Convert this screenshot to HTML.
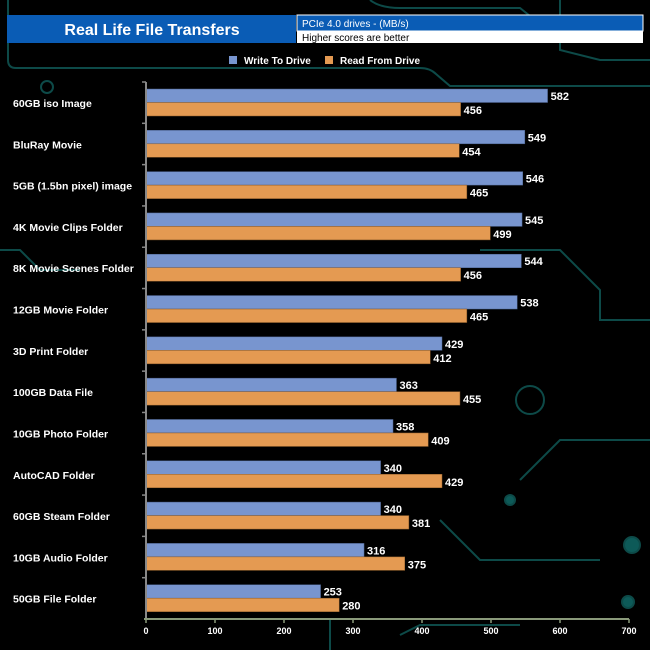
<!DOCTYPE html>
<html><head><meta charset="utf-8"><style>
body{margin:0;background:#000;}
svg{display:block;font-family:"Liberation Sans",Arial,sans-serif;}
</style></head><body>
<svg id="c" width="650" height="650" xmlns="http://www.w3.org/2000/svg">
<g stroke="#0d4a48" stroke-width="2" fill="none">
<path d="M8 0 V60 Q8 68 16 68 H420 Q430 68 436 74 L450 86 H650"/>
<path d="M370 0 Q380 8 400 8 H520 L560 40 V50 L600 60 H650"/>
<path d="M560 0 V20"/>
<path d="M0 250 H20 L40 270 H80"/>
<path d="M480 250 H560 L600 290 V320 L650 320"/>
<path d="M520 480 L560 440 H650"/>
<path d="M440 520 L480 560 H600"/>
<path d="M330 620 V650"/>
<path d="M400 635 L420 625 H520"/>
<circle cx="510" cy="500" r="5" fill="#0d5a58"/>
<circle cx="632" cy="545" r="8" fill="#0d5a58"/>
<circle cx="628" cy="602" r="6" fill="#0d5a58"/>
<circle cx="530" cy="400" r="14"/>
<circle cx="47" cy="87" r="6"/>
</g>
<g>
<rect x="7" y="15" width="289" height="28" fill="#0a5cb5"/>
<text x="152" y="35" fill="#fff" font-size="16" font-weight="bold" text-anchor="middle">Real Life File Transfers</text>
<rect x="297" y="15" width="346" height="16" fill="#0a5cb5" stroke="#fff" stroke-width="1"/>
<rect x="297" y="31" width="346" height="12" fill="#fff"/>
<text x="302" y="27" fill="#fff" font-size="10">PCIe 4.0 drives - (MB/s)</text>
<text x="302" y="41" fill="#000" font-size="10">Higher scores are better</text>
</g>
<g font-size="10" font-weight="bold" fill="#fff">
<rect x="229" y="56" width="8" height="8" fill="#7895cf"/>
<text x="244" y="64">Write To  Drive</text>
<rect x="325" y="56" width="8" height="8" fill="#e49a52"/>
<text x="340" y="64">Read From  Drive</text>
</g>
<g id="plot"></g>
</svg>
<script>
const categories=["60GB iso Image","BluRay Movie","5GB (1.5bn pixel) image","4K Movie Clips Folder","8K Movie Scenes Folder","12GB Movie Folder","3D Print Folder","100GB Data File","10GB Photo Folder","AutoCAD Folder","60GB Steam Folder","10GB Audio Folder","50GB File Folder"];
const writeVals=[582,549,546,545,544,538,429,363,358,340,340,316,253];
const readVals=[456,454,465,499,456,465,412,455,409,429,381,375,280];
const ticks=[0,100,200,300,400,500,600,700];
const NS="http://www.w3.org/2000/svg";
const X0=146,X1=629,MAX=700,TOP=82,BOT=619;
const x=v=>X0+(X1-X0)*v/MAX;
const rowH=(BOT-TOP)/categories.length;
const g=document.getElementById('plot');
function mk(t,a){const e=document.createElementNS(NS,t);for(const k in a)e.setAttribute(k,a[k]);g.appendChild(e);return e;}
categories.forEach((c,i)=>{
 const y0=TOP+i*rowH;
 const bw=mk('rect',{x:X0,y:y0+7,width:x(writeVals[i])-X0,height:13.5,fill:'#7895cf',stroke:'#4a5f8a','stroke-width':0.5});
 
 
 const br=mk('rect',{x:X0,y:y0+20.5,width:x(readVals[i])-X0,height:13.5,fill:'#e49a52',stroke:'#8a5a2a','stroke-width':0.5});
 
 
 const lw=mk('text',{x:x(writeVals[i])+3,y:y0+18,fill:'#fff','font-size':11,'font-weight':'bold'});lw.textContent=writeVals[i];
 
 
 const lr=mk('text',{x:x(readVals[i])+3,y:y0+32,fill:'#fff','font-size':11,'font-weight':'bold'});lr.textContent=readVals[i];
 
 
 const cl=mk('text',{x:13,y:y0+25,fill:'#fff','font-size':10.5,'font-weight':'bold'});cl.textContent=c;
 
 
 const tk=mk('line',{x1:X0-4,x2:X0,y1:y0,y2:y0,stroke:'#888','stroke-width':1.5});
 
 
});
const ya=mk('line',{x1:X0,x2:X0,y1:TOP,y2:BOT,stroke:'#888','stroke-width':2});


const xa=mk('line',{x1:X0-2,x2:X1,y1:BOT,y2:BOT,stroke:'#8a9a7a','stroke-width':2});


ticks.forEach(t=>{
 const l=mk('line',{x1:x(t),x2:x(t),y1:BOT,y2:BOT+4,stroke:'#8a9a7a','stroke-width':1.5});
 
 
 const tx=mk('text',{x:x(t),y:BOT+15,fill:'#fff','font-size':9,'font-weight':'bold','text-anchor':'middle'});tx.textContent=t;
 
 
});
</script>
</body></html>
